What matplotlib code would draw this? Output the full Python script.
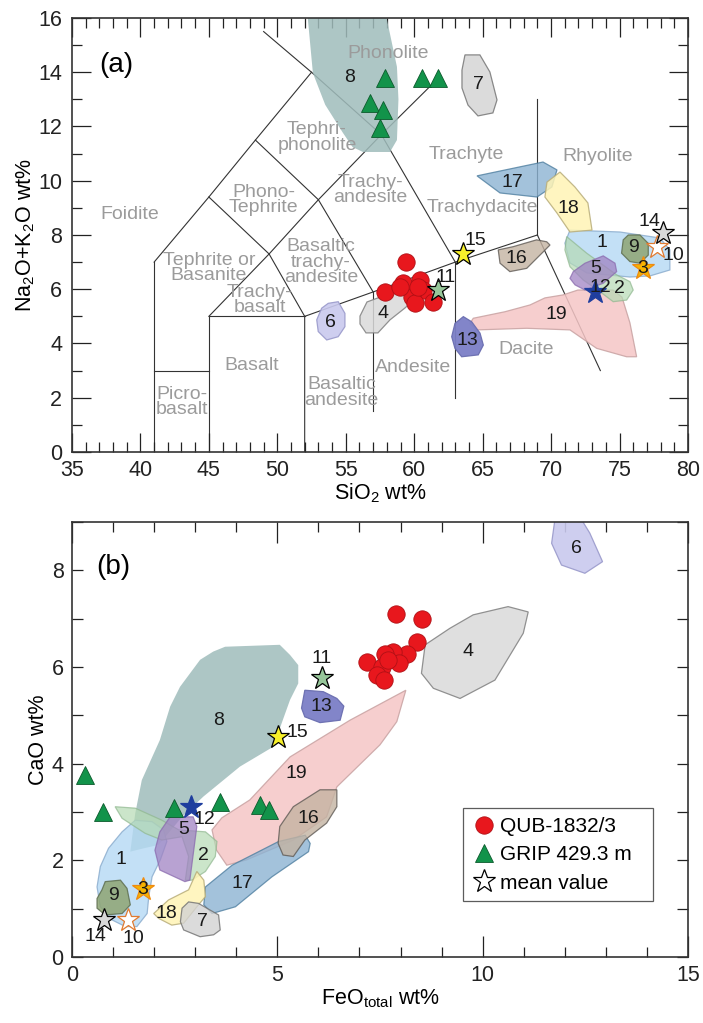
import matplotlib
matplotlib.use('Agg')
import matplotlib.pyplot as plt
from matplotlib.patches import Polygon
from matplotlib.ticker import MultipleLocator
from matplotlib.lines import Line2D

plt.rcParams['font.family'] = ['Liberation Sans', 'DejaVu Sans']
plt.rcParams['mathtext.fontset'] = 'custom'
plt.rcParams['mathtext.rm'] = 'Liberation Sans'
plt.rcParams['mathtext.it'] = 'Liberation Sans'

# ---------------- (a) TAS diagram ----------------
# classification boundaries (SiO2, Na2O+K2O)
tas_lines = [
    [(41, 0), (41, 7)],
    [(41, 3), (45, 3)],
    [(45, 0), (45, 5), (52, 5)],
    [(52, 0), (52, 5), (57, 5.9), (63, 7), (69, 8)],
    [(57, 1.5), (57, 5.9)],
    [(63, 2), (63, 7)],
    [(69, 8), (73.6, 3)],
    [(69, 8), (69, 13)],
    [(41, 7), (45, 9.4), (48.4, 11.5), (52.5, 14)],
    [(49, 15.5), (52.5, 14), (57.6, 11.7)],
    [(57.6, 11.7), (61.6, 13.7)],
    [(57.6, 11.7), (63, 7)],
    [(45, 9.4), (49.4, 7.3), (52, 5)],
    [(45, 5), (49.4, 7.3), (53, 9.3), (57.6, 11.7)],
    [(48.4, 11.5), (53, 9.3), (57, 5.9)],
]

rock_names = ['Phonolite', 'Tephri-\nphonolite', 'Phono-\nTephrite', 'Foidite',
              'Trachy-\nandesite', 'Trachyte', 'Rhyolite', 'Trachydacite',
              'Tephrite or\nBasanite', 'Basaltic\ntrachy-\nandesite',
              'Trachy-\nbasalt', 'Basalt', 'Picro-\nbasalt', 'Basaltic\nandesite',
              'Andesite', 'Dacite']
rock_x = [58.1, 52.9, 49.0, 39.2, 56.8, 63.8, 73.4, 65.0, 45.0, 53.2, 48.7, 48.1,
          43.0, 54.7, 59.9, 68.2]
rock_y = [14.7, 11.6, 9.3, 8.74, 9.66, 10.95, 10.9, 9.0, 6.78, 7.0, 5.6, 3.2,
          1.85, 2.2, 3.13, 3.76]

# reference fields, top panel
tas_1 = [(71.38, 8.18), (75.03, 8.11), (77.95, 7.89), (78.68, 7.45), (78.68, 6.71),
         (77.22, 6.49), (75.76, 6.45), (72.62, 6.60), (71.38, 6.97), (71.01, 7.70)]
tas_2 = [(71.14, 7.94), (72.6, 7.33), (74.79, 6.53), (75.76, 6.28), (76.0, 5.97),
         (75.52, 5.6), (74.54, 5.54), (73.57, 5.91), (72.35, 6.34), (71.38, 6.83),
         (71.01, 7.45)]
tas_4 = [(56.04, 5.01), (56.55, 5.53), (57.35, 5.68), (58.6, 5.90), (59.84, 5.97),
         (60.28, 5.75), (59.33, 5.31), (58.23, 4.87), (57.35, 4.39), (56.48, 4.39),
         (56.04, 4.72)]
tas_5 = [(72.48, 6.96), (73.81, 7.23), (74.67, 6.96), (74.79, 6.65), (73.81, 6.22),
         (72.48, 5.97), (71.75, 6.16), (71.38, 6.40), (71.62, 6.65)]
tas_6 = [(53.72, 5.48), (54.45, 5.54), (54.94, 5.11), (54.94, 4.62), (54.45, 4.25),
         (53.61, 4.13), (52.99, 4.44), (52.88, 4.87), (53.24, 5.30)]
tas_7 = [(63.71, 14.64), (64.8, 14.64), (65.53, 14.01), (66.05, 12.98), (65.75, 12.5),
         (64.66, 12.39), (63.93, 12.79), (63.49, 13.42), (63.49, 14.08)]
tas_8 = [(52.17, 16.3), (52.6, 13.97), (53.5, 12.8), (54.8, 11.76), (55.5, 11.24),
         (56.26, 11.06), (58.23, 11.06), (58.74, 11.5), (58.85, 13.0), (58.74, 14.2),
         (57.86, 16.3)]
tas_9 = [(75.64, 8.0), (76.49, 8.0), (77.1, 7.69), (77.1, 7.26), (76.49, 6.96),
         (75.76, 7.02), (75.15, 7.33), (75.27, 7.82)]
tas_13 = [(63.59, 4.99), (64.2, 4.80), (64.81, 4.38), (65.05, 3.94), (64.68, 3.58),
          (63.47, 3.51), (62.98, 3.82), (62.74, 4.25), (62.98, 4.74)]
tas_16 = [(66.14, 7.45), (67.24, 7.57), (68.94, 7.82), (69.68, 7.75), (69.92, 7.63),
          (69.43, 7.38), (68.22, 6.77), (66.99, 6.65), (66.27, 6.96)]
tas_17 = [(64.59, 10.18), (69.41, 10.69), (70.43, 10.40), (70.06, 9.77), (68.97, 9.40),
          (66.27, 9.55)]
tas_18 = [(70.65, 10.32), (71.74, 9.77), (72.69, 9.18), (72.99, 8.18), (71.38, 8.11),
          (70.43, 8.81), (69.55, 9.40), (69.7, 9.95)]
tas_19 = [(64.32, 4.93), (66.63, 5.17), (68.46, 5.42), (69.55, 5.68), (70.87, 5.79),
          (71.96, 5.97), (74.52, 5.97), (75.18, 5.71), (75.76, 4.76), (76.25, 3.51),
          (75.52, 3.51), (73.33, 3.82), (71.38, 4.5), (68.22, 4.56), (64.56, 4.50),
          (64.07, 4.74)]

tas_label_ids = ['1', '2', '4', '5', '6', '7', '8', '9', '13', '16', '17', '18', '19']
tas_label_x = [73.72, 75.03, 57.7, 73.28, 53.9, 64.66, 55.31, 76.0, 63.88, 67.49,
               67.2, 71.23, 70.41]
tas_label_y = [7.74, 6.03, 5.11, 6.75, 4.77, 13.53, 13.79, 7.55, 4.10, 7.14, 9.95,
               8.96, 5.05]

qub_sio2 = [59.4, 57.87, 59.2, 60.42, 60.66, 59.81, 60.06, 61.39, 60.30, 58.96]
qub_alk = [7.02, 5.91, 6.22, 6.34, 5.97, 5.73, 5.48, 5.54, 6.10, 6.10]
grip_sio2 = [57.86, 56.77, 57.74, 57.5, 60.55, 61.76]
grip_alk = [13.79, 12.87, 12.61, 11.94, 13.78, 13.78]

# ---------------- (b) FeO vs CaO ----------------
fe_1 = [(1.54, 2.83), (1.95, 2.80), (2.23, 2.63), (2.31, 2.39), (2.15, 2.01),
        (1.95, 1.66), (1.87, 1.25), (1.83, 0.90), (1.58, 0.63), (1.30, 0.63),
        (0.97, 0.77), (0.69, 1.04), (0.61, 1.45), (0.69, 1.87), (0.89, 2.25),
        (1.22, 2.59)]
fe_2 = [(1.05, 3.11), (1.54, 3.08), (2.19, 2.83), (2.60, 2.63), (3.25, 2.59),
        (3.53, 2.39), (3.49, 2.08), (3.25, 1.77), (2.92, 1.59), (2.76, 1.59),
        (2.84, 2.08), (2.68, 2.49), (2.19, 2.42), (1.78, 2.56), (1.22, 2.87)]
fe_4 = [(8.6, 6.46), (9.2, 6.80), (9.77, 7.08), (10.62, 7.25), (11.11, 7.14),
        (10.99, 6.70), (10.30, 5.73), (9.45, 5.35), (8.80, 5.56), (8.51, 5.87)]
fe_5 = [(2.39, 2.90), (2.95, 2.90), (3.04, 2.70), (2.87, 1.59), (2.75, 1.56),
        (2.14, 1.80), (2.02, 2.21), (2.14, 2.59)]
fe_6 = [(11.8, 9.3), (12.3, 9.2), (12.61, 8.77), (12.92, 8.18), (12.49, 7.94),
        (11.92, 8.11), (11.68, 8.56)]
fe_7 = [(2.84, 1.14), (3.08, 1.11), (3.57, 0.87), (3.61, 0.56), (3.45, 0.46),
        (3.12, 0.42), (2.72, 0.56), (2.64, 0.73), (2.68, 1.01)]
fe_8 = [(3.44, 6.32), (3.73, 6.42), (5.06, 6.46), (5.31, 6.25), (5.51, 6.04),
        (5.51, 5.66), (5.31, 5.32), (4.9, 4.35), (4.09, 3.94), (3.2, 3.32),
        (2.68, 2.9), (2.11, 2.32), (1.75, 2.25), (1.42, 2.18), (1.54, 2.97),
        (1.70, 3.66), (2.14, 4.49), (2.39, 5.18), (2.63, 5.59), (3.12, 6.15)]
fe_9 = [(0.81, 1.56), (1.18, 1.59), (1.34, 1.42), (1.42, 1.08), (1.22, 0.90),
        (0.81, 0.87), (0.61, 1.01), (0.61, 1.21), (0.73, 1.39)]
fe_13 = [(5.67, 5.52), (6.12, 5.49), (6.45, 5.35), (6.62, 5.19), (6.53, 4.90),
         (6.04, 4.85), (5.67, 4.97), (5.59, 5.15)]
fe_16 = [(5.06, 2.70), (5.39, 3.11), (6.04, 3.46), (6.45, 3.46), (6.45, 3.11),
         (6.20, 2.77), (5.67, 2.42), (5.39, 2.08), (5.14, 2.11), (5.02, 2.35)]
fe_17 = [(3.25, 1.45), (3.90, 1.90), (5.03, 2.39), (5.68, 2.52), (5.80, 2.35),
         (5.76, 2.18), (4.87, 1.66), (3.98, 1.04), (3.41, 0.90), (3.21, 1.08)]
fe_18 = [(3.04, 1.77), (3.21, 1.59), (3.25, 1.25), (3.08, 1.08), (2.72, 0.70),
         (2.43, 0.66), (2.11, 0.80), (1.99, 0.90), (2.35, 1.18), (2.84, 1.39)]
fe_19 = [(3.41, 2.63), (3.65, 2.88), (4.33, 3.25), (5.31, 4.14), (6.77, 4.90),
         (8.13, 5.52), (7.91, 4.87), (7.50, 4.39), (6.45, 3.52), (6.20, 2.90),
         (5.39, 2.42), (4.25, 2.01), (3.77, 1.90), (3.52, 2.21)]

fe_label_ids = ['1', '2', '4', '5', '6', '7', '8', '9', '13', '16', '17', '18', '19']
fe_label_x = [1.18, 3.19, 9.65, 2.73, 12.29, 3.17, 3.56, 1.01, 6.08, 5.75, 4.14, 2.31, 5.47]
fe_label_y = [2.01, 2.11, 6.32, 2.63, 8.46, 0.73, 4.9, 1.28, 5.18, 2.87, 1.52, 0.90, 3.80]

qub_feo = [7.89, 8.53, 8.39, 8.15, 7.82, 7.62, 7.18, 7.97, 7.54, 7.42, 7.60, 7.70]
qub_cao = [7.09, 6.99, 6.51, 6.27, 6.32, 6.27, 6.11, 6.08, 6.01, 5.83, 5.73, 6.15]
grip_feo = [0.32, 0.76, 2.48, 3.61, 4.59, 4.79]
grip_cao = [3.77, 3.01, 3.08, 3.21, 3.15, 3.04]

# mean values (stars)
mean_ids = ['3', '10', '11', '12', '14', '15']
mean_sio2 = [76.69, 77.71, 61.76, 73.2, 78.15, 63.59]
mean_alk = [6.77, 7.57, 5.97, 5.91, 8.06, 7.29]
mean_feo = [1.72, 1.36, 6.09, 2.91, 0.77, 5.02]
mean_cao = [1.40, 0.77, 5.78, 3.11, 0.77, 4.56]
mean_lab_sio2 = [76.69, 78.93, 62.32, 73.57, 77.17, 64.44]
mean_lab_alk = [6.77, 7.23, 6.44, 6.05, 8.49, 7.78]
mean_lab_feo = [1.72, 1.50, 6.08, 3.23, 0.58, 5.49]
mean_lab_cao = [1.40, 0.39, 6.17, 2.85, 0.42, 4.65]

# ---------------- styles ----------------
face = {'1': '#b4d9f4', '2': '#b5dab4', '4': '#dadada', '5': '#a083c3', '6': '#c9c9ee',
        '7': '#d3d3d3', '8': '#9fbcbb', '9': '#8ea573', '13': '#7b7fc6', '16': '#c4b3a2',
        '17': '#8cb3d3', '18': '#fff4b5', '19': '#f5c6c6'}
edge = {'1': '#88aacc', '2': '#8fb78f', '4': '#808080', '5': '#8a6aae', '6': '#9a9acb',
        '7': '#6f6f6f', '8': 'none', '9': '#5f6f50', '13': '#6a6eb0', '16': '#5f5a55',
        '17': '#4f7fa0', '18': '#b8ad7a', '19': '#c8a2a2'}
alpha = {'1': 0.8, '2': 0.7, '4': 0.85, '5': 0.75, '6': 0.9, '7': 0.8, '8': 0.85,
         '9': 0.85, '13': 0.95, '16': 0.8, '17': 0.8, '18': 0.85, '19': 0.85}
star_face = {'3': '#f6b400', '10': 'white', '11': '#97c79a', '12': '#1f3e9e',
             '14': '#d8d8d8', '15': '#f7f02a'}
star_edge = {'3': '#ef8a10', '10': '#e07a30', '11': 'black', '12': '#1f3e9e',
             '14': 'black', '15': 'black'}
region_gray = '#9b9b9b'
num_size = 14

fig = plt.figure(figsize=(7.03, 10.23), dpi=100)
ax1 = fig.add_axes([0.1024, 0.5582, 0.8762, 0.4242])
ax2 = fig.add_axes([0.1024, 0.0645, 0.8762, 0.4252])

# --- panel a
for seg in tas_lines:
    xs = [p[0] for p in seg]
    ys = [p[1] for p in seg]
    ax1.plot(xs, ys, color='#333333', lw=0.8, zorder=1)

for name, x, y in zip(rock_names, rock_x, rock_y):
    ax1.text(x, y, name, color=region_gray, fontsize=14, ha='center', va='center',
             linespacing=0.88, zorder=4)

tas_polys = {'19': tas_19, '1': tas_1, '2': tas_2, '5': tas_5, '9': tas_9, '4': tas_4,
             '6': tas_6, '7': tas_7, '8': tas_8, '13': tas_13, '16': tas_16,
             '17': tas_17, '18': tas_18}
for k, pts in tas_polys.items():
    ax1.add_patch(Polygon(pts, closed=True, facecolor=face[k], edgecolor=edge[k],
                          lw=0.9, alpha=alpha[k], zorder=2))
for k, x, y in zip(tas_label_ids, tas_label_x, tas_label_y):
    ax1.text(x, y, k, fontsize=num_size, ha='center', va='center', color='#1a1a1a', zorder=3)

ax1.plot(grip_sio2, grip_alk, ls='none', marker='^', ms=13, mfc='#12934a',
         mec='#0b5a2c', mew=0.6, zorder=5)
ax1.plot(qub_sio2, qub_alk, ls='none', marker='o', ms=12.5, mfc='#e8171d',
         mec='#b01015', mew=0.6, zorder=6)
for k, x, y, lx, ly in zip(mean_ids, mean_sio2, mean_alk, mean_lab_sio2, mean_lab_alk):
    ax1.plot(x, y, ls='none', marker='*', ms=17, mfc=star_face[k], mec=star_edge[k],
             mew=0.9, zorder=7)
    ax1.text(lx, ly, k, fontsize=num_size, ha='center', va='center', color='#1a1a1a', zorder=8)

ax1.text(37.0, 14.27, '(a)', fontsize=20, ha='left', va='center')
ax1.set_xlim(35, 80)
ax1.set_ylim(0, 16)
ax1.xaxis.set_major_locator(MultipleLocator(5))
ax1.xaxis.set_minor_locator(MultipleLocator(1))
ax1.yaxis.set_major_locator(MultipleLocator(2))
ax1.yaxis.set_minor_locator(MultipleLocator(1))
ax1.tick_params(which='both', direction='in', top=True, right=True, width=0.9,
                labelsize=15.5, colors='#222222')
ax1.tick_params(which='major', length=14)
ax1.tick_params(axis='x', which='major', pad=6)
ax1.tick_params(axis='y', which='major', pad=7)
ax1.tick_params(which='minor', length=7.5)
ax1.set_xlabel('SiO$_2$ wt%', fontsize=15.5, labelpad=0)
ax1.set_ylabel('Na$_2$O+K$_2$O wt%', fontsize=15.5, labelpad=1)

# --- panel b
fe_polys = {'8': fe_8, '19': fe_19, '1': fe_1, '2': fe_2, '5': fe_5, '9': fe_9,
            '4': fe_4, '6': fe_6, '13': fe_13, '17': fe_17, '16': fe_16,
            '18': fe_18, '7': fe_7}
for k, pts in fe_polys.items():
    ax2.add_patch(Polygon(pts, closed=True, facecolor=face[k], edgecolor=edge[k],
                          lw=0.9, alpha=alpha[k], zorder=2))
for k, x, y in zip(fe_label_ids, fe_label_x, fe_label_y):
    ax2.text(x, y, k, fontsize=num_size, ha='center', va='center', color='#1a1a1a', zorder=3)

ax2.plot(grip_feo, grip_cao, ls='none', marker='^', ms=13, mfc='#12934a',
         mec='#0b5a2c', mew=0.6, zorder=5)
ax2.plot(qub_feo, qub_cao, ls='none', marker='o', ms=12.5, mfc='#e8171d',
         mec='#b01015', mew=0.6, zorder=6)
for k, x, y, lx, ly in zip(mean_ids, mean_feo, mean_cao, mean_lab_feo, mean_lab_cao):
    ax2.plot(x, y, ls='none', marker='*', ms=17, mfc=star_face[k], mec=star_edge[k],
             mew=0.9, zorder=7)
    ax2.text(lx, ly, k, fontsize=num_size, ha='center', va='center', color='#1a1a1a', zorder=8)

ax2.text(0.6, 8.07, '(b)', fontsize=20, ha='left', va='center')
ax2.set_xlim(0, 15)
ax2.set_ylim(0, 9)
ax2.xaxis.set_major_locator(MultipleLocator(5))
ax2.xaxis.set_minor_locator(MultipleLocator(1))
ax2.yaxis.set_major_locator(MultipleLocator(2))
ax2.yaxis.set_minor_locator(MultipleLocator(1))
ax2.tick_params(which='both', direction='in', top=True, right=True, width=0.9,
                labelsize=15.5, colors='#222222')
ax2.tick_params(axis='x', which='major', length=15, pad=6)
ax2.tick_params(axis='x', which='minor', length=7.5)
ax2.tick_params(axis='y', which='both', length=8, pad=6)
ax2.set_xlabel('FeO$_{\\mathrm{total}}$ wt%', fontsize=15.5, labelpad=1)
ax2.set_ylabel('CaO wt%', fontsize=15.5, labelpad=2)

handles = [
    Line2D([], [], ls='none', marker='o', ms=12.5, mfc='#e8171d', mec='#b01015', mew=0.6),
    Line2D([], [], ls='none', marker='^', ms=13, mfc='#12934a', mec='#0b5a2c', mew=0.6),
    Line2D([], [], ls='none', marker='*', ms=17, mfc='white', mec='black', mew=0.9),
]
leg = ax2.legend(handles, ['QUB-1832/3', 'GRIP 429.3 m', 'mean value'],
                 loc='lower left', bbox_to_anchor=(0.634, 0.129, 0.309, 0.246),
                 mode='expand', fontsize=15, frameon=True, fancybox=False,
                 handletextpad=0.1, handlelength=1.3, borderpad=0.4,
                 labelspacing=0.45, borderaxespad=0)
leg.get_frame().set_edgecolor('#333333')
leg.get_frame().set_linewidth(0.9)

for ax in (ax1, ax2):
    for s in ax.spines.values():
        s.set_linewidth(1.2)
        s.set_color('#333333')

fig.savefig('out.png', dpi=100)
